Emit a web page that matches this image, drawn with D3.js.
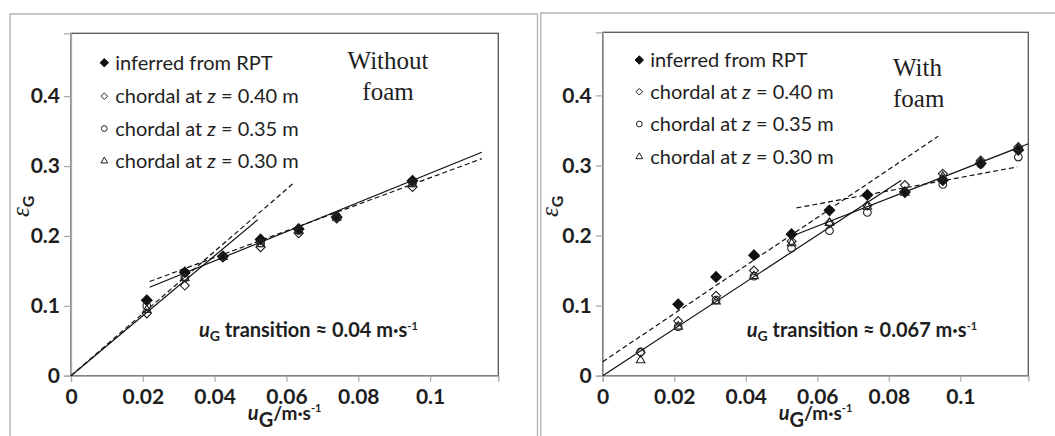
<!DOCTYPE html>
<html><head><meta charset="utf-8">
<script src="https://cdn.jsdelivr.net/npm/d3@7"></script>
<style>body{margin:0;background:#fff}svg{display:block}</style>
</head><body>
<script>
// Superficial gas velocity u_G (m/s) and gas holdup ε_G, without foam
const ugNoFoam  = [0.0211, 0.0317, 0.0423, 0.0528, 0.0634, 0.0740, 0.0951];
const rptNoFoam = [0.108, 0.148, 0.171, 0.195, 0.210, 0.227, 0.279];
const z40NoFoam = [0.089, 0.129, 0.169, 0.184, 0.204, 0.225, 0.270];
const z35NoFoam = [0.100, 0.140, 0.170, 0.190, 0.208, 0.228, 0.276];
const z30NoFoam = [0.094, 0.140, 0.170, 0.188, 0.208, 0.226, 0.274];

// Same quantities with foam
const ugFoam  = [0.0106, 0.0211, 0.0317, 0.0423, 0.0528, 0.0634, 0.0740, 0.0845, 0.0951, 0.1057, 0.1162];
const rptFoam = [null, 0.102, 0.141, 0.172, 0.202, 0.236, 0.258, 0.262, 0.279, 0.303, 0.322];
const z40Foam = [0.033, 0.078, 0.114, 0.150, 0.192, 0.218, 0.243, 0.272, 0.288, 0.307, 0.326];
const z35Foam = [0.034, 0.070, 0.108, 0.142, 0.182, 0.207, 0.233, 0.262, 0.273, 0.302, 0.312];
const z30Foam = [0.022, 0.070, 0.106, 0.142, 0.189, 0.218, 0.241, 0.261, 0.284, 0.305, 0.325];

// Linear fits [u_G, ε_G] end points: solid = chordal, dashed = RPT
const noFoamChordalLow  = [[0, 0], [0.052, 0.2232]];
const noFoamChordalHigh = [[0.0219, 0.1266], [0.1144, 0.3197]];
const noFoamRptLow      = [[0, 0], [0.062, 0.2757]];
const noFoamRptHigh     = [[0.0219, 0.1348], [0.1144, 0.3106]];
const foamChordalLow    = [[0, 0], [0.0835, 0.2789]];
const foamChordalHigh   = [[0.0528, 0.199], [0.119, 0.331]];
const foamRptLow        = [[0, 0.020], [0.0938, 0.3416]];
const foamRptHigh       = [[0.0542, 0.2394], [0.1159, 0.2979]];

// Axes
const ugTicks = [0, 0.02, 0.04, 0.06, 0.08, 0.1];
const ugTickLabels = ["0", "0.02", "0.04", "0.06", "0.08", "0.1"];
const epsTicks = [0, 0.1, 0.2, 0.3, 0.4];
const epsTickLabels = ["0", "0.1", "0.2", "0.3", "0.4"];
const ugMax = 0.119, epsMax = 0.49;

// Legend rows: [plain, italic, plain]
const legendRows = [
  ["inferred from RPT", "", ""],
  ["chordal at ", "z", " = 0.40 m"],
  ["chordal at ", "z", " = 0.35 m"],
  ["chordal at ", "z", " = 0.30 m"]
];
const titleNoFoam = ["Without", "foam"];
const titleFoam = ["With", "foam"];
const transitionNoFoam = "0.04";
const transitionFoam = "0.067";

const W = 1055, H = 436;
const svg = d3.select("body").append("svg").attr("width", W).attr("height", H);
svg.append("rect").attr("width", W).attr("height", H).attr("fill", "#fff");

// Outer frames of the two panels
svg.append("path").attr("d", "M10,436V14H537.5V436")
  .attr("fill", "none").attr("stroke", "#b4b4b4").attr("stroke-width", 1.4);
svg.append("path").attr("d", "M540.7,436V13H1055")
  .attr("fill", "none").attr("stroke", "#b4b4b4").attr("stroke-width", 1.4);

const SANS = "Lato, 'Open Sans', sans-serif";
const INK = "#1e1e1e";

const diamond = {
  draw(ctx, size) {
    const r = Math.sqrt(size / 2);
    ctx.moveTo(0, -r); ctx.lineTo(r, 0); ctx.lineTo(0, r); ctx.lineTo(-r, 0); ctx.closePath();
  }
};
// marker styles per series: filled diamond, open diamond, open circle, open triangle
const markerStyles = [
  {type: diamond, size: 56, fill: "#111", stroke: "#111", lsize: 36},
  {type: diamond, size: 40, fill: "none", stroke: "#222", lsize: 22},
  {type: d3.symbolCircle, size: 46, fill: "none", stroke: "#222", lsize: 26},
  {type: d3.symbolTriangle, size: 32, fill: "none", stroke: "#222", lsize: 20}
];

function drawPanel(cfg) {
  const x = d3.scaleLinear().domain([0, ugMax]).range([cfg.left, cfg.right]);
  const y = d3.scaleLinear().domain([0, epsMax]).range([cfg.bottom, cfg.top]);
  const g = svg.append("g");

  // plot box
  g.append("rect")
    .attr("x", cfg.left).attr("y", cfg.top)
    .attr("width", cfg.right - cfg.left).attr("height", cfg.bottom - cfg.top)
    .attr("fill", "none").attr("stroke", "#555").attr("stroke-width", 1.3);

  const xAxis = g.append("g").attr("transform", `translate(0,${cfg.bottom})`)
    .call(d3.axisBottom(x).tickValues(ugTicks)
      .tickFormat((d, i) => ugTickLabels[i]).tickSize(6).tickPadding(7));
  const yAxis = g.append("g").attr("transform", `translate(${cfg.left},0)`)
    .call(d3.axisLeft(y).tickValues(epsTicks)
      .tickFormat((d, i) => epsTickLabels[i]).tickSize(7).tickPadding(4));
  [xAxis, yAxis].forEach(a => {
    a.select(".domain").attr("stroke", "#a8a8a8").attr("stroke-width", 1.3);
    a.selectAll(".tick line").attr("stroke", "#a8a8a8").attr("stroke-width", 1.2);
    a.selectAll(".tick text").attr("fill", INK)
      .style("font-family", SANS).style("font-size", "21px").style("font-weight", "bold");
  });

  // fit lines
  const line = d3.line().x(d => x(d[0])).y(d => y(d[1]));
  cfg.solid.forEach(s => g.append("path").attr("d", line(s))
    .attr("fill", "none").attr("stroke", "#111").attr("stroke-width", 1.2));
  cfg.dashed.forEach(s => g.append("path").attr("d", line(s))
    .attr("fill", "none").attr("stroke", "#111").attr("stroke-width", 1.2)
    .attr("stroke-dasharray", "5,3"));

  // markers
  cfg.series.forEach((vals, si) => {
    const st = markerStyles[si];
    const sym = d3.symbol().type(st.type).size(st.size);
    const pts = cfg.ug.map((u, i) => [u, vals[i]]).filter(p => p[1] != null);
    g.append("g").selectAll("path").data(pts).join("path")
      .attr("transform", d => `translate(${x(d[0])},${y(d[1])})`)
      .attr("d", sym())
      .attr("fill", st.fill).attr("stroke", st.stroke).attr("stroke-width", 1.1);
  });

  // legend
  legendRows.forEach((parts, i) => {
    const st = markerStyles[i];
    const cy = cfg.legendY[i];
    g.append("path").attr("transform", `translate(${cfg.legendX},${cy})`)
      .attr("d", d3.symbol().type(st.type).size(st.lsize)())
      .attr("fill", st.fill).attr("stroke", st.stroke).attr("stroke-width", 1);
    const t = g.append("text").attr("x", cfg.legendX + 11).attr("y", cy + 7)
      .attr("fill", INK).style("font-family", SANS).style("font-size", "20px");
    t.append("tspan").text(parts[0]);
    if (parts[1]) t.append("tspan").style("font-style", "italic").text(parts[1]);
    if (parts[2]) t.append("tspan").text(parts[2]);
  });

  // panel title
  cfg.title.forEach((s, i) => {
    g.append("text").attr("x", cfg.titleX).attr("y", cfg.titleY + i * 31)
      .attr("text-anchor", cfg.titleAnchor).attr("fill", INK)
      .style("font-family", "'Liberation Serif', 'DejaVu Serif', serif").style("font-size", "25px")
      .text(s);
  });

  // transition annotation
  const a = g.append("text").attr("x", cfg.noteX).attr("y", 337).attr("fill", INK)
    .style("font-family", SANS).style("font-weight", "bold").style("font-size", "20px");
  a.append("tspan").style("font-style", "italic").text("u");
  a.append("tspan").attr("dy", 4).style("font-size", "14px").text("G");
  a.append("tspan").attr("dy", -4).text(` transition ≈ ${cfg.transition} m·s`);
  a.append("tspan").attr("dy", -7).style("font-size", "11px").text("-1");

  // x-axis title
  const cx = (cfg.left + cfg.right) / 2;
  const xt = g.append("text").attr("x", cx).attr("y", 420).attr("text-anchor", "middle")
    .attr("fill", INK).style("font-family", SANS).style("font-weight", "bold").style("font-size", "20px");
  xt.append("tspan").style("font-style", "italic").text("u");
  xt.append("tspan").attr("dy", 7).text("G");
  xt.append("tspan").attr("dy", -7).style("font-size", "19px").text("/m·s");
  xt.append("tspan").attr("dy", -8).style("font-size", "11px").text("-1");

  // y-axis title
  const yt = g.append("text").attr("transform", `translate(${cfg.yTitleX},217) rotate(-90)`)
    .attr("fill", INK);
  yt.append("tspan").style("font-family", "'Liberation Serif', serif").style("font-style", "italic")
    .style("font-size", "25px").text("ε");
  yt.append("tspan").attr("dy", 5).style("font-family", SANS).style("font-weight", "bold")
    .style("font-size", "16px").text("G");
}

drawPanel({
  left: 71, right: 498.3, top: 33.3, bottom: 375.7,
  ug: ugNoFoam, series: [rptNoFoam, z40NoFoam, z35NoFoam, z30NoFoam],
  solid: [noFoamChordalLow, noFoamChordalHigh], dashed: [noFoamRptLow, noFoamRptHigh],
  legendX: 104.3, legendY: [62.7, 96.2, 128.5, 161],
  title: titleNoFoam, titleX: 388, titleY: 69, titleAnchor: "middle",
  noteX: 199, transition: transitionNoFoam, yTitleX: 29
});
drawPanel({
  left: 602.7, right: 1028.3, top: 32.3, bottom: 375.7,
  ug: ugFoam, series: [rptFoam, z40Foam, z35Foam, z30Foam],
  solid: [foamChordalLow, foamChordalHigh], dashed: [foamRptLow, foamRptHigh],
  legendX: 639.3, legendY: [60, 91.7, 124, 156.7],
  title: titleFoam, titleX: 893, titleY: 76, titleAnchor: "start",
  noteX: 746.7, transition: transitionFoam, yTitleX: 557.5
});
</script>
</body></html>
